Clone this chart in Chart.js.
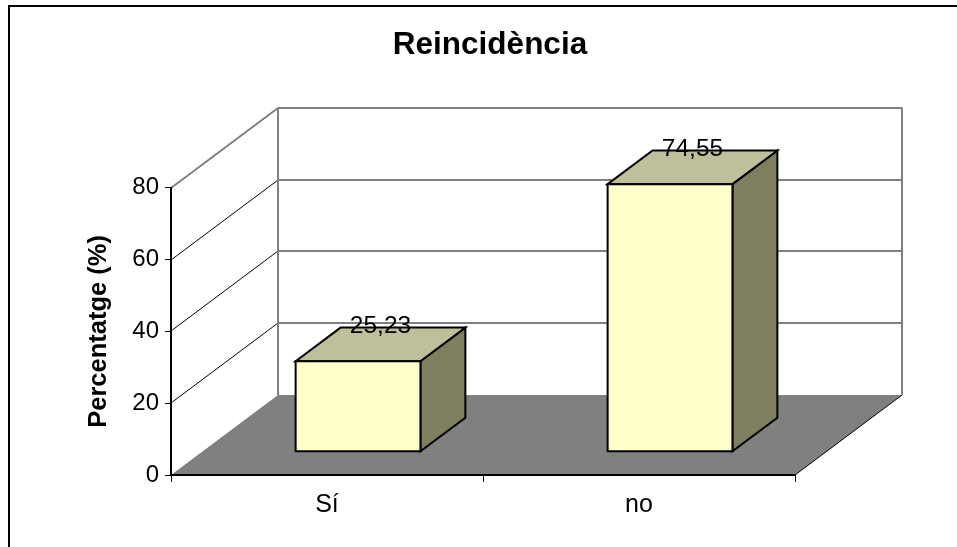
<!DOCTYPE html>
<html>
<head>
<meta charset="utf-8">
<title>Reincidència</title>
<script src="https://cdn.jsdelivr.net/npm/chart.js@4.4.1/dist/chart.umd.min.js"></script>
<style>
   html, body { margin: 0; padding: 0; background: #fff; }
   canvas { display: block; }
</style>
</head>
<body>
<canvas id="myChart" width="957" height="547"></canvas>
<script>
// ==========================================
// Data
// ==========================================

const categories = ["Sí", "no"];
const percentages = [25.23, 74.55];
const yMax = 80;
const yStep = 20;

// ==========================================
// 3D look
// ==========================================

// offset from the front plane to the back wall
const depthX = 107;
const depthY = -80;
// bars stand in the middle of the floor
const barFront = 0.29;
const barBack = 0.71;

const wallLine = "#808080";
const floorColor = "#808080";
const frontColor = "#FFFFCC";
const topColor = "#BFBF9B";
const sideColor = "#7F7F60";

Chart.defaults.font.family = "'Liberation Sans', Arial, sans-serif";
Chart.defaults.color = "#000";

function line(c, x1, y1, x2, y2, color, width) {
   c.beginPath();
   c.moveTo(x1, y1);
   c.lineTo(x2, y2);
   c.strokeStyle = color;
   c.lineWidth = width;
   c.stroke();
}

function poly(c, pts, fill, stroke) {
   c.beginPath();
   c.moveTo(pts[0][0], pts[0][1]);
   for (let i = 1; i < pts.length; i++) c.lineTo(pts[i][0], pts[i][1]);
   c.closePath();
   if (fill) {
      c.fillStyle = fill;
      c.fill();
   }
   if (stroke) {
      c.strokeStyle = stroke;
      c.lineWidth = 2;
      c.lineJoin = "miter";
      c.stroke();
   }
}

// outer border of the chart object
const frame = {
   id: "frame",
   beforeDraw(chart) {
      const c = chart.ctx;
      c.save();
      c.beginPath();
      c.moveTo(9, chart.height);
      c.lineTo(9, 6);
      c.lineTo(chart.width, 6);
      c.strokeStyle = "#000";
      c.lineWidth = 2;
      c.stroke();
      c.restore();
   }
};

// floor, side wall and back wall with their gridlines
const walls = {
   id: "walls",
   beforeDraw(chart) {
      const c = chart.ctx;
      const a = chart.chartArea;
      const y = chart.scales.y;
      const L = a.left, R = a.right, T = a.top, B = a.bottom;
      c.save();
      poly(c, [[L, B], [R, B], [R + depthX, B + depthY], [L + depthX, B + depthY]], floorColor);
      line(c, R, B, R + depthX, B + depthY, "#000", 1);
      y.ticks.forEach((t) => {
         if (t.value === 0) return;
         const py = Math.round(y.getPixelForValue(t.value));
         const isTop = t.value === y.max;
         line(c, L, py, L + depthX, py + depthY, isTop ? wallLine : "#000", isTop ? 2 : 1);
         line(c, L + depthX, py + depthY, R + depthX, py + depthY, wallLine, 2);
      });
      line(c, L + depthX, T + depthY, L + depthX, B + depthY, wallLine, 2);
      line(c, R + depthX, T + depthY, R + depthX, B + depthY, wallLine, 2);
      c.restore();
   }
};

// boxes for each bar plus the value written on top
const bars3d = {
   id: "bars3d",
   afterDatasetsDraw(chart) {
      const c = chart.ctx;
      const meta = chart.getDatasetMeta(0);
      c.save();
      meta.data.forEach((bar, i) => {
         const p = bar.getProps(["x", "y", "base", "width"], true);
         const fx = barFront * depthX, fy = barFront * depthY;
         const bx = barBack * depthX, by = barBack * depthY;
         const l = p.x - p.width / 2, r = p.x + p.width / 2;
         // side
         poly(c, [[r + fx, p.y + fy], [r + bx, p.y + by], [r + bx, p.base + by], [r + fx, p.base + fy]], sideColor, "#000");
         // top
         poly(c, [[l + fx, p.y + fy], [l + bx, p.y + by], [r + bx, p.y + by], [r + fx, p.y + fy]], topColor, "#000");
         // front
         poly(c, [[l + fx, p.y + fy], [r + fx, p.y + fy], [r + fx, p.base + fy], [l + fx, p.base + fy]], frontColor, "#000");

         c.fillStyle = "#000";
         c.font = "24.5px 'Liberation Sans', Arial, sans-serif";
         c.textAlign = "center";
         c.textBaseline = "middle";
         c.fillText(percentages[i].toFixed(2).replace(".", ","), p.x + (barFront + barBack) / 2 * depthX, p.y + by - 1);
      });
      c.restore();
   }
};

const ctx = document.getElementById("myChart");

let chart = new Chart(ctx, {
   type: "bar",
   data: {
      labels: categories,
      datasets: [{
         label: "Percentatge",
         data: percentages,
         yAxisID: "y",
         backgroundColor: "rgba(0,0,0,0)",
         borderWidth: 0,
         barPercentage: 0.4,
         categoryPercentage: 1
      }]
   },
   options: {
      responsive: false,
      devicePixelRatio: 1,
      animation: false,
      events: [],
      layout: { padding: { left: 23, right: 0, top: 0, bottom: 0 } },
      plugins: {
         legend: { display: false },
         tooltip: { enabled: false },
         title: {
            display: true,
            text: "Reincidència",
            color: "#000",
            font: { size: 31.5, weight: "bold" },
            padding: { top: 26, bottom: 124 }
         }
      },
      scales: {
         x: {
            ticks: { color: "#000", font: { size: 25 }, padding: 8 },
            grid: { drawOnChartArea: false, color: "#000", tickLength: 7 },
            border: { color: "#000", width: 2 },
            afterFit: (s) => { s.height = 72; }
         },
         y: {
            min: 0,
            max: yMax,
            ticks: { stepSize: yStep, color: "#000", font: { size: 24 }, padding: 6 },
            grid: { drawOnChartArea: false, color: "#000", tickLength: 6 },
            border: { color: "#000", width: 2 },
            title: {
               display: true,
               text: "Percentatge (%)",
               color: "#000",
               font: { size: 25.5, weight: "bold" },
               padding: { top: 61, bottom: 0 }
            },
            afterFit: (s) => { s.width = 148; }
         },
         // empty space on the right that the back wall reaches into
         pad: {
            type: "linear",
            position: "right",
            ticks: { display: false },
            grid: { display: false },
            border: { display: false },
            afterFit: (s) => { s.width = 162; }
         }
      }
   },
   plugins: [frame, walls, bars3d]
});
</script>
</body>
</html>
